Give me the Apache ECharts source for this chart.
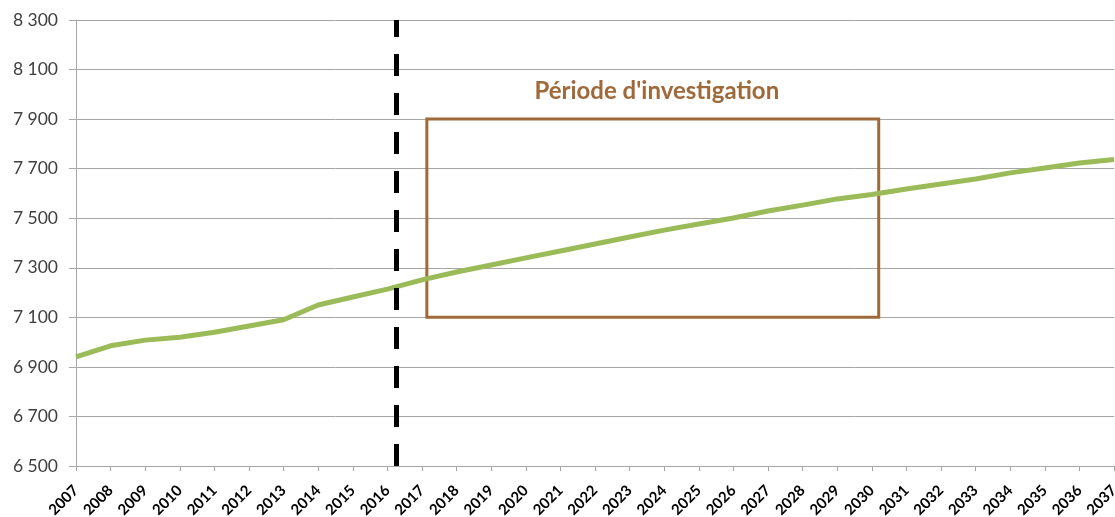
<!DOCTYPE html>
<html>
<head>
<meta charset="utf-8">
<script src="https://cdn.jsdelivr.net/npm/echarts@6/dist/echarts.min.js"></script>
<style>
  html, body { margin: 0; padding: 0; background: #fff; }
  #chart { width: 1115px; height: 517px; }
</style>
</head>
<body>
<div id="chart"></div>
<script>
// années et valeurs
const years = [2007, 2008, 2009, 2010, 2011, 2012, 2013, 2014, 2015, 2016,
  2017, 2018, 2019, 2020, 2021, 2022, 2023, 2024, 2025, 2026,
  2027, 2028, 2029, 2030, 2031, 2032, 2033, 2034, 2035, 2036, 2037];
const values = [6940, 6985, 7008, 7020, 7040, 7065, 7090, 7150, 7182, 7214,
  7251, 7283, 7311, 7340, 7368, 7396, 7424, 7452, 7477, 7501,
  7529, 7553, 7578, 7596, 7618, 7638, 7658, 7683, 7703, 7723, 7737];
const dividerYear = [2016.26];
const periodX = [2017.14, 2030.2];
const periodY = [7100, 7900];
const periodLabel = "Période d'investigation";

const chart = echarts.init(document.getElementById('chart'));
const brown = '#a0693a';

function fmt(v) {
  return String(v).replace(/\B(?=(\d{3})+(?!\d))/g, ' ');
}

chart.setOption({
  animation: false,
  textStyle: { fontFamily: 'Lato' },
  grid: { left: 76, right: 1, top: 20, bottom: 51, outerBoundsMode: 'none', containLabel: false },
  xAxis: {
    type: 'value',
    min: 2007,
    max: 2037,
    interval: 1,
    axisLine: { lineStyle: { color: '#a6a6a6', width: 1 } },
    axisTick: { length: 5, lineStyle: { color: '#a6a6a6' } },
    splitLine: { show: false },
    axisLabel: {
      rotate: 45,
      margin: 22,
      color: '#000',
      fontWeight: 'bold',
      fontSize: 15,
      fontFamily: 'Lato',
      formatter: function (v) { return String(v); }
    }
  },
  yAxis: {
    type: 'value',
    min: 6500,
    max: 8300,
    interval: 200,
    axisLine: { show: true, lineStyle: { color: '#a6a6a6', width: 1 } },
    axisTick: { show: true, length: 7, lineStyle: { color: '#a6a6a6' } },
    splitLine: { lineStyle: { color: '#a6a6a6', width: 1 } },
    axisLabel: {
      margin: 18,
      color: '#404040',
      fontSize: 17.5,
      fontFamily: 'Lato',
      formatter: fmt
    }
  },
  series: [{
    type: 'line',
    data: years.map((y, i) => [y, values[i]]),
    showSymbol: false,
    symbol: 'none',
    lineStyle: { color: '#9bbb59', width: 5 },
    z: 3,
    markLine: {
      silent: true,
      symbol: 'none',
      label: { show: false },
      lineStyle: { color: '#000', width: 5, type: [22, 17] },
      data: [{ xAxis: dividerYear[0] }]
    },
    markArea: {
      silent: true,
      itemStyle: { color: 'rgba(0,0,0,0)', borderColor: brown, borderWidth: 3 },
      label: {
        show: true,
        position: 'top',
        distance: 14,
        offset: [4, 0],
        color: brown,
        fontWeight: 'bold',
        fontSize: 24,
        fontFamily: 'Lato'
      },
      data: [[
        { name: periodLabel, xAxis: periodX[0], yAxis: periodY[1] },
        { xAxis: periodX[1], yAxis: periodY[0] }
      ]]
    }
  }]
});
</script>
</body>
</html>
